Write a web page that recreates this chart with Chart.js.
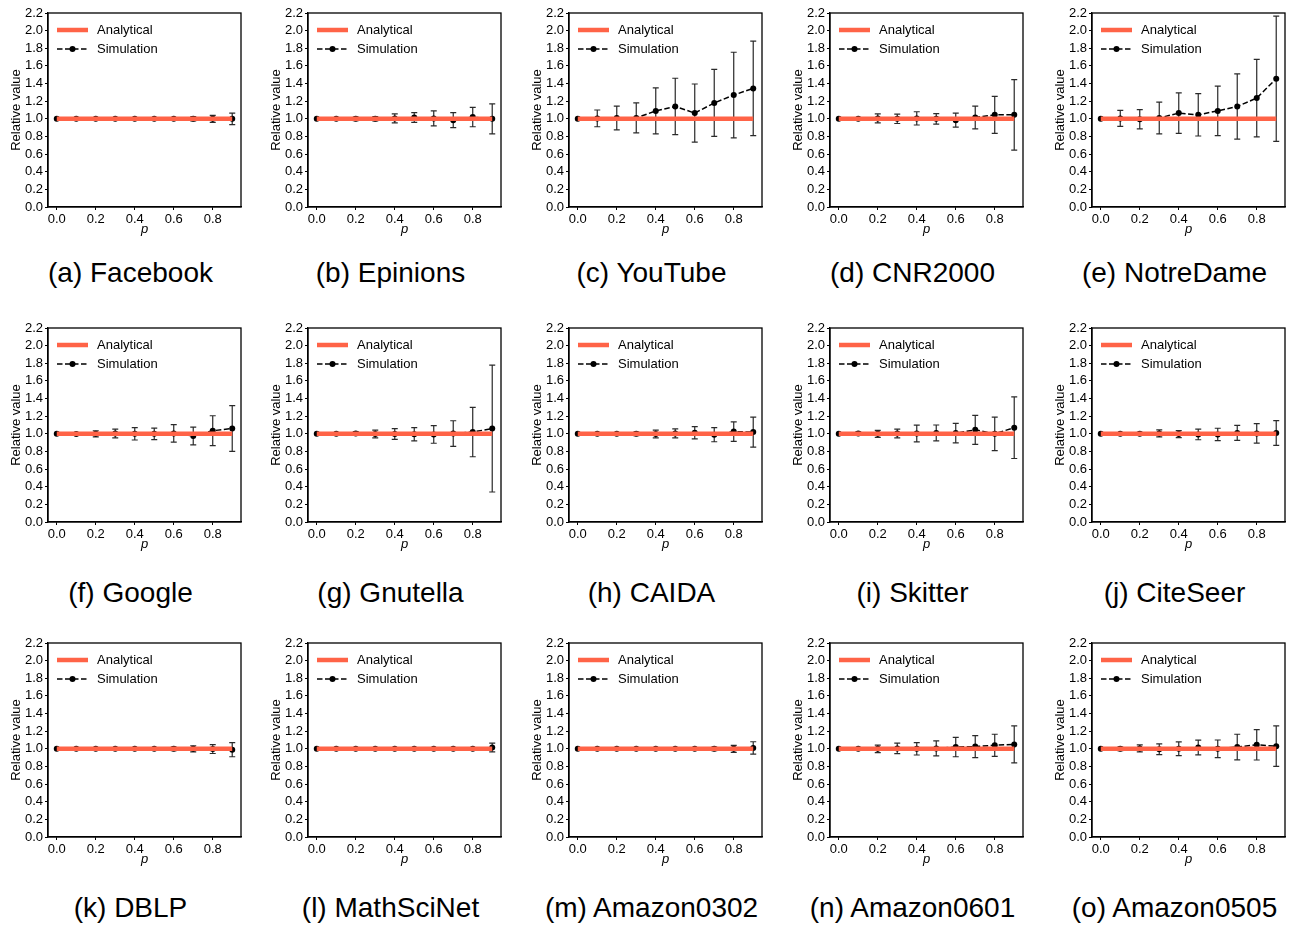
<!DOCTYPE html>
<html>
<head>
<meta charset="utf-8">
<script src="https://cdn.jsdelivr.net/npm/chart.js@4.4.1/dist/chart.umd.min.js"></script>
<style>
  html, body { margin: 0; padding: 0; background: #fff; }
  #figure {
    position: relative; width: 1293px; height: 925px; overflow: hidden;
    font-family: "Liberation Sans", Arial, Helvetica, sans-serif;
  }
  .panel { position: absolute; }
  .caption {
    position: absolute; font-size: 28px; color: #000; white-space: nowrap;
    transform: translate(-50%, -50%); line-height: 1;
  }
</style>
</head>
<body>
<div id="figure"></div>
<script>
// ------------------------- DATA -------------------------
const captions = [
  '(a) Facebook', '(b) Epinions', '(c) YouTube', '(d) CNR2000', '(e) NotreDame',
  '(f) Google', '(g) Gnutella', '(h) CAIDA', '(i) Skitter', '(j) CiteSeer',
  '(k) DBLP', '(l) MathSciNet', '(m) Amazon0302', '(n) Amazon0601', '(o) Amazon0505'
];
const pValues = [0.0, 0.1, 0.2, 0.3, 0.4, 0.5, 0.6, 0.7, 0.8, 0.9];
const analytical = [1, 1, 1, 1, 1, 1, 1, 1, 1, 1];
const seriesLabels = ['Analytical', 'Simulation'];

// simulation mean, one row per network (same order as captions)
const simMean = [
  [1, 1.000, 1.000, 1.000, 1.000, 1.000, 1.000, 1.000, 1.000, 1.000], // Facebook
  [1, 1.000, 1.000, 1.000, 1.005, 1.015, 1.005, 0.985, 1.020, 1.000], // Epinions
  [1, 1.005, 1.010, 1.010, 1.090, 1.140, 1.065, 1.180, 1.270, 1.345], // YouTube
  [1, 1.000, 1.005, 1.000, 1.005, 1.000, 0.985, 1.015, 1.045, 1.045], // CNR2000
  [1, 1.005, 0.995, 1.010, 1.065, 1.045, 1.090, 1.140, 1.235, 1.455], // NotreDame
  [1, 0.997, 1.000, 1.003, 1.000, 1.000, 1.005, 0.975, 1.035, 1.060], // Google
  [1, 1.000, 1.005, 0.998, 0.998, 0.995, 0.993, 1.003, 1.020, 1.060], // Gnutella
  [1, 1.000, 1.002, 1.000, 0.998, 1.005, 1.012, 0.990, 1.025, 1.020], // CAIDA
  [1, 1.003, 1.000, 1.003, 1.003, 1.010, 1.008, 1.045, 1.000, 1.070], // Skitter
  [1, 1.000, 1.000, 1.005, 0.997, 0.993, 0.993, 1.010, 1.005, 1.010], // CiteSeer
  [1, 1.000, 1.000, 1.000, 1.000, 1.000, 1.000, 1.000, 0.997, 0.990], // DBLP
  [1, 1.000, 1.000, 1.000, 1.000, 1.000, 1.000, 1.000, 1.000, 1.015], // MathSciNet
  [1, 1.000, 1.000, 1.000, 1.000, 1.000, 1.000, 1.000, 1.000, 1.010], // Amazon0302
  [1, 1.000, 1.000, 1.005, 1.000, 1.005, 1.020, 1.025, 1.040, 1.050], // Amazon0601
  [1, 1.000, 1.005, 0.995, 1.000, 1.015, 1.000, 1.020, 1.045, 1.030]  // Amazon0505
];

// simulation error (half length of the error bar)
const simErr = [
  [0, 0.004, 0.005, 0.006, 0.008, 0.010, 0.015, 0.025, 0.040, 0.065], // Facebook
  [0, 0.008, 0.020, 0.025, 0.050, 0.055, 0.085, 0.085, 0.110, 0.170], // Epinions
  [0, 0.095, 0.135, 0.170, 0.260, 0.320, 0.330, 0.380, 0.485, 0.535], // YouTube
  [0, 0.012, 0.050, 0.053, 0.075, 0.060, 0.080, 0.130, 0.210, 0.400], // CNR2000
  [0, 0.090, 0.110, 0.180, 0.230, 0.240, 0.280, 0.370, 0.440, 0.710], // NotreDame
  [0, 0.012, 0.035, 0.050, 0.070, 0.065, 0.100, 0.100, 0.170, 0.260], // Google
  [0, 0.010, 0.020, 0.045, 0.060, 0.075, 0.100, 0.145, 0.280, 0.720], // Gnutella
  [0, 0.006, 0.012, 0.020, 0.045, 0.050, 0.070, 0.080, 0.110, 0.170], // CAIDA
  [0, 0.020, 0.040, 0.050, 0.095, 0.090, 0.110, 0.165, 0.190, 0.350], // Skitter
  [0, 0.006, 0.018, 0.040, 0.040, 0.060, 0.070, 0.085, 0.110, 0.140], // CiteSeer
  [0, 0.003, 0.004, 0.006, 0.010, 0.012, 0.020, 0.035, 0.050, 0.080], // DBLP
  [0, 0.002, 0.003, 0.004, 0.005, 0.006, 0.008, 0.010, 0.015, 0.050], // MathSciNet
  [0, 0.003, 0.004, 0.005, 0.007, 0.010, 0.015, 0.020, 0.040, 0.070], // Amazon0302
  [0, 0.012, 0.043, 0.060, 0.070, 0.085, 0.110, 0.125, 0.125, 0.210], // Amazon0601
  [0, 0.020, 0.040, 0.060, 0.078, 0.083, 0.100, 0.145, 0.172, 0.230]  // Amazon0505
];

const xTicks = [0.0, 0.2, 0.4, 0.6, 0.8];
const yTicks = [0.0, 0.2, 0.4, 0.6, 0.8, 1.0, 1.2, 1.4, 1.6, 1.8, 2.0, 2.2];

// ------------------------- LAYOUT -------------------------
const FONT = '"Liberation Sans", Arial, Helvetica, sans-serif';
const RED = '#ff6347';
const PLOT_LEFT = [48, 308, 569, 830, 1092];  // left edge of each column's axes
const ROW_TOP = [0, 315, 630];
const CAPTION_Y = [273, 593, 908];
const CANVAS_W = 252, CANVAS_H = 245;
const AXIS_W = 48, AXIS_H = 38, PAD_TOP = 13, PAD_RIGHT = 11;

// ------------------------- PLUGINS -------------------------
// matplotlib-style error bars, drawn before the simulation line (above the red one)
const errorBars = {
  id: 'errorBars',
  beforeDatasetDraw(chart, args) {
    const ds = chart.data.datasets[args.index];
    if (!ds.errors) return;
    const meta = chart.getDatasetMeta(args.index);
    const ys = chart.scales.y;
    const ctx = chart.ctx;
    ctx.save();
    ctx.strokeStyle = '#2a2a2a';
    ctx.lineWidth = 1.2;
    meta.data.forEach((pt, i) => {
      const e = ds.errors[i];
      if (!e) return;
      const v = ds.data[i].y;
      const top = ys.getPixelForValue(v + e);
      const bot = ys.getPixelForValue(v - e);
      ctx.beginPath();
      ctx.moveTo(pt.x, top); ctx.lineTo(pt.x, bot);
      ctx.moveTo(pt.x - 3, top); ctx.lineTo(pt.x + 3, top);
      ctx.moveTo(pt.x - 3, bot); ctx.lineTo(pt.x + 3, bot);
      ctx.stroke();
    });
    ctx.restore();
  }
};

// legend in the upper-left corner of the axes
const insideLegend = {
  id: 'insideLegend',
  afterDatasetsDraw(chart) {
    const { ctx, chartArea: a } = chart;
    const [red, sim] = chart.data.datasets;
    const x0 = a.left + 9, x1 = a.left + 40, tx = a.left + 49;
    const y0 = a.top + 17, y1 = a.top + 36;
    ctx.save();
    ctx.strokeStyle = red.borderColor;
    ctx.lineWidth = red.borderWidth;
    ctx.beginPath(); ctx.moveTo(x0, y0); ctx.lineTo(x1, y0); ctx.stroke();

    ctx.strokeStyle = '#000';
    ctx.lineWidth = sim.borderWidth;
    ctx.setLineDash(sim.borderDash);
    ctx.beginPath(); ctx.moveTo(x0, y1); ctx.lineTo(x1, y1); ctx.stroke();
    ctx.setLineDash([]);
    ctx.fillStyle = '#000';
    ctx.beginPath(); ctx.arc((x0 + x1) / 2, y1, sim.pointRadius, 0, Math.PI * 2); ctx.fill();

    ctx.font = '13px ' + FONT;
    ctx.textBaseline = 'middle';
    ctx.fillText(red.label, tx, y0);
    ctx.fillText(sim.label, tx, y1);
    ctx.restore();
  }
};

// full box around the axes (top and right spines too)
const frame = {
  id: 'frame',
  afterDraw(chart) {
    const { ctx, chartArea: a } = chart;
    ctx.save();
    ctx.strokeStyle = '#000';
    ctx.lineWidth = 1.3;
    ctx.strokeRect(a.left, a.top, a.right - a.left, a.bottom - a.top);
    ctx.restore();
  }
};

// ------------------------- BUILD -------------------------
const figure = document.getElementById('figure');

captions.forEach((caption, k) => {
  const row = Math.floor(k / 5), col = k % 5;
  const left = PLOT_LEFT[col] - AXIS_W;
  const top = ROW_TOP[row];

  const canvas = document.createElement('canvas');
  canvas.className = 'panel';
  canvas.width = CANVAS_W;
  canvas.height = CANVAS_H;
  canvas.style.left = left + 'px';
  canvas.style.top = top + 'px';
  figure.appendChild(canvas);

  const cap = document.createElement('div');
  cap.className = 'caption';
  cap.textContent = caption;
  cap.style.left = (PLOT_LEFT[col] + 82.5) + 'px';
  cap.style.top = CAPTION_Y[row] + 'px';
  figure.appendChild(cap);

  const tickFont = { size: 13, family: FONT };

  new Chart(canvas.getContext('2d'), {
    type: 'line',
    data: {
      datasets: [
        {
          label: seriesLabels[0],
          data: pValues.map((p, i) => ({ x: p, y: analytical[i] })),
          borderColor: RED, borderWidth: 4.5, pointRadius: 0, fill: false
        },
        {
          label: seriesLabels[1],
          data: pValues.map((p, i) => ({ x: p, y: simMean[k][i] })),
          errors: simErr[k],
          borderColor: '#000', borderWidth: 1.5, borderDash: [5.5, 2.5],
          pointRadius: 3, pointBackgroundColor: '#000', pointBorderWidth: 0,
          fill: false
        }
      ]
    },
    options: {
      responsive: false,
      animation: false,
      devicePixelRatio: 1,
      layout: { padding: { top: PAD_TOP, right: PAD_RIGHT, left: 0, bottom: 0 } },
      plugins: { legend: { display: false }, tooltip: { enabled: false } },
      scales: {
        x: {
          type: 'linear', min: -0.045, max: 0.945,
          afterBuildTicks: s => { s.ticks = xTicks.map(v => ({ value: v })); },
          afterFit: s => { s.height = AXIS_H; },
          ticks: { callback: v => v.toFixed(1), color: '#000', font: tickFont, padding: 2, maxRotation: 0, autoSkip: false },
          grid: { drawOnChartArea: false, drawTicks: true, tickLength: 3, color: '#000' },
          border: { color: '#000', width: 1.3 },
          title: { display: true, text: 'p', color: '#000', font: { size: 13, style: 'italic', family: FONT }, padding: { top: 0, bottom: 8 } }
        },
        y: {
          type: 'linear', min: 0, max: 2.2,
          afterBuildTicks: s => { s.ticks = yTicks.map(v => ({ value: v })); },
          afterFit: s => { s.width = AXIS_W; },
          ticks: { callback: v => v.toFixed(1), color: '#000', font: tickFont, padding: 2, autoSkip: false },
          grid: { drawOnChartArea: false, drawTicks: true, tickLength: 3, color: '#000' },
          border: { color: '#000', width: 1.3 },
          title: { display: true, text: 'Relative value', color: '#000', font: { size: 13, family: FONT }, padding: { top: 9, bottom: 0 } }
        }
      }
    },
    plugins: [errorBars, insideLegend, frame]
  });
});
</script>
</body>
</html>
